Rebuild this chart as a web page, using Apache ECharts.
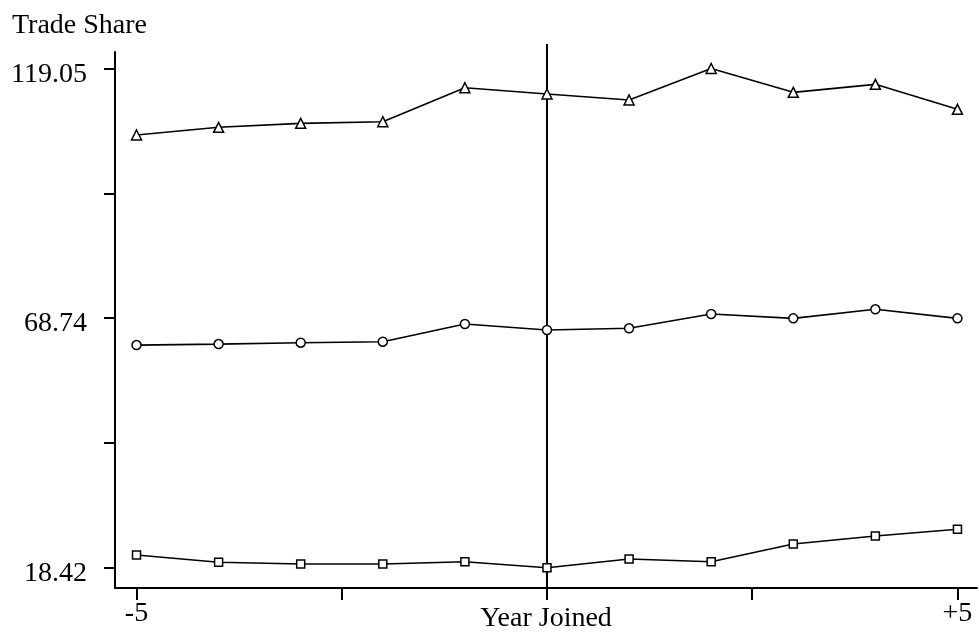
<!DOCTYPE html>
<html>
<head>
<meta charset="utf-8">
<script src="https://cdn.jsdelivr.net/npm/echarts@6/dist/echarts.min.js"></script>
<style>html,body{margin:0;padding:0;background:#fff}#c{width:979px;height:637px}</style>
</head>
<body>
<div id="c"></div>
<script>
var years = [-5, -4, -3, -2, -1, 0, 1, 2, 3, 4, 5];
var triangleSeries = [105.65, 107.2, 108.0, 108.33, 115.18, 113.91, 112.7, 119.05, 114.25, 115.86, 110.83];
var circleSeries = [63.3, 63.5, 63.78, 63.98, 67.55, 66.34, 66.68, 69.56, 68.69, 70.51, 68.69];
var squareSeries = [20.98, 19.51, 19.17, 19.17, 19.63, 18.42, 20.17, 19.63, 23.2, 24.81, 26.16];

var yTickValues = [18.42, 43.58, 68.735, 93.89, 119.05];
var yLabelValues = [18.42, 68.735, 119.05];
var yLabelTexts = ['18.42', '68.74', '119.05'];
var xTickValues = [-5, -2.5, 0, 2.5, 5];
var xLabelValues = [-5, 5];
var xLabelTexts = ['-5', '+5'];
var joinYear = 0;

var yMin = 14.33, yMax = 122.38, lineTop = 124.0;
var xMin = -5.262, xMax = 5.238;

function pairs(vals) { return years.map(function (y, i) { return [y, vals[i]]; }); }

var font = '"Liberation Serif", "Times New Roman", serif';
var chart = echarts.init(document.getElementById('c'));
function seriesOf(name, vals, symbol, size) {
  return {
    name: name, type: 'line', data: pairs(vals), symbol: symbol, symbolSize: size,
    lineStyle: { color: '#000', width: 1.6 },
    itemStyle: { color: '#fff', borderColor: '#000', borderWidth: 1.5 },
    animation: false, z: 3
  };
}
chart.setOption({
  animation: false,
  title: { text: 'Trade Share', left: 7, top: 7, textStyle: { fontFamily: font, fontSize: 28, fontWeight: 'normal', color: '#000' } },
  grid: { left: 115, right: 2, top: 52, bottom: 49, containLabel: false, outerBoundsMode: 'none' },
  xAxis: {
    type: 'value', min: xMin, max: xMax,
    name: 'Year Joined', nameLocation: 'middle', nameGap: 17, nameMoveOverlap: false,
    nameTextStyle: { fontFamily: font, fontSize: 28, color: '#000' },
    axisLine: { show: true, onZero: false, lineStyle: { color: '#000', width: 2 } },
    axisTick: { show: true, length: 12, lineStyle: { color: '#000', width: 2 }, customValues: xTickValues },
    axisLabel: {
      customValues: xLabelValues, margin: 12, fontFamily: font, fontSize: 28, color: '#000',
      formatter: function (v) { var i = xLabelValues.indexOf(v); return i >= 0 ? xLabelTexts[i] : ''; }
    },
    splitLine: { show: false }
  },
  yAxis: {
    type: 'value', min: yMin, max: yMax,
    axisLine: { show: true, onZero: false, lineStyle: { color: '#000', width: 2 } },
    axisTick: { show: true, length: 11, lineStyle: { color: '#000', width: 2 }, customValues: yTickValues },
    axisLabel: {
      customValues: yLabelValues, margin: 28, fontFamily: font, fontSize: 28, color: '#000',
      verticalAlign: 'top', lineHeight: 12,
      formatter: function (v) {
        for (var i = 0; i < yLabelValues.length; i++) { if (Math.abs(yLabelValues[i] - v) < 1e-6) return yLabelTexts[i]; }
        return '';
      }
    },
    splitLine: { show: false }
  },
  series: [
    {
      type: 'line', data: [[joinYear, yMin], [joinYear, lineTop]], symbol: 'none', clip: false,
      lineStyle: { color: '#000', width: 2 }, animation: false, z: 2, silent: true
    },
    seriesOf('triangle', triangleSeries, 'triangle', 10),
    seriesOf('circle', circleSeries, 'circle', 9),
    seriesOf('square', squareSeries, 'rect', 8)
  ]
});
</script>
</body>
</html>
